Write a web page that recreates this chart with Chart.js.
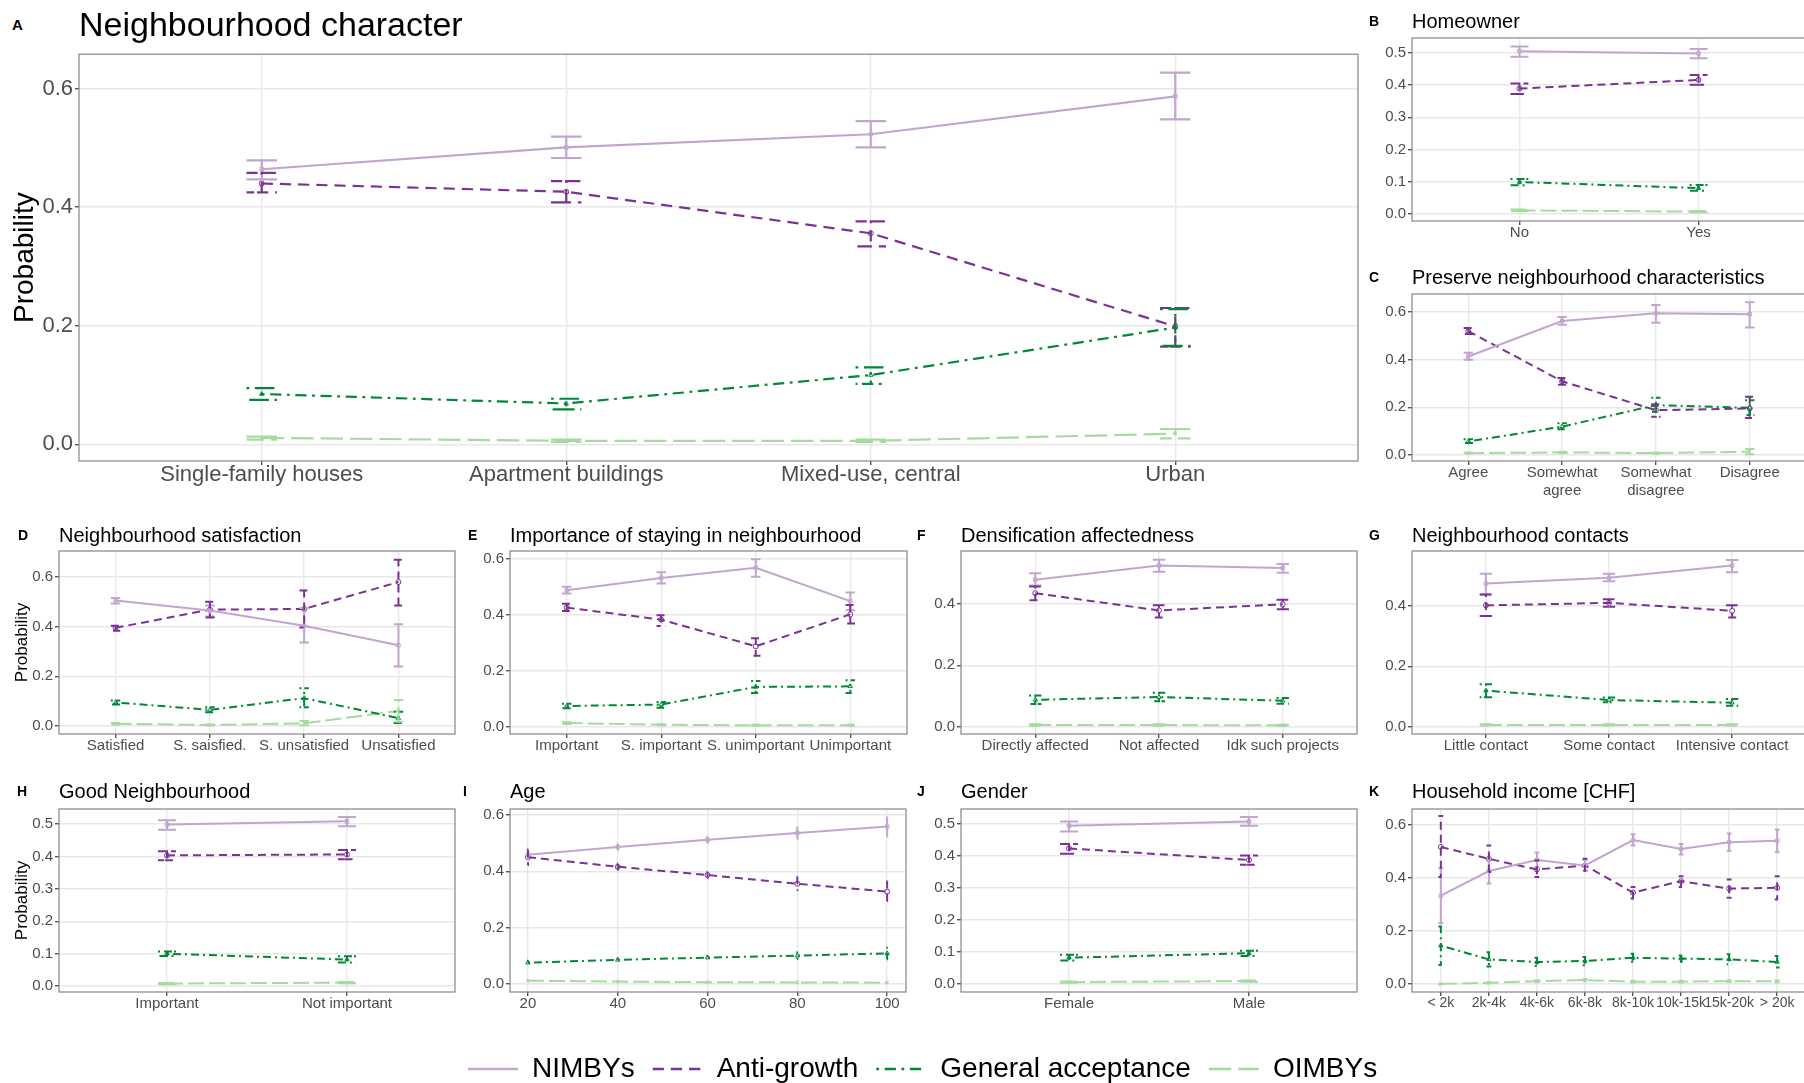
<!DOCTYPE html>
<html>
<head>
<meta charset="utf-8">
<script src="https://cdn.jsdelivr.net/npm/chart.js@4.4.1/dist/chart.umd.min.js"></script>
<style>
  html, body { margin: 0; padding: 0; background: #fff; overflow: hidden; width: 1804px; height: 1083px; }
  body { position: relative; font-family: "Liberation Sans", Arial, sans-serif; }
  canvas { position: absolute; }
  .tag { position: absolute; font-weight: bold; font-size: 14px; line-height: 1; transform: translateY(-50%); color: #000; }
  .ttl { position: absolute; font-size: 20px; line-height: 1; transform: translateY(-50%); white-space: nowrap; color: #000; }
</style>
</head>
<body>
<script>
// series
const seriesNames = ["NIMBYs", "Anti-growth", "General acceptance", "OIMBYs"];

// tick values
const ticksTenth = [0, 0.1, 0.2, 0.3, 0.4, 0.5];
const ticksSix = [0, 0.2, 0.4, 0.6];
const ticksFour = [0, 0.2, 0.4];
const ageTicks = [20, 40, 60, 80, 100];

// A Neighbourhood character
const charCats = ["Single-family houses", "Apartment buildings", "Mixed-use, central", "Urban"];
const charEst = [[0.464, 0.501, 0.523, 0.587], [0.440, 0.426, 0.356, 0.199], [0.085, 0.069, 0.117, 0.197], [0.011, 0.006, 0.006, 0.018]];
const charLo = [[0.447, 0.483, 0.501, 0.548], [0.425, 0.408, 0.334, 0.165], [0.075, 0.059, 0.102, 0.166], [0.008, 0.004, 0.004, 0.010]];
const charHi = [[0.479, 0.519, 0.545, 0.627], [0.458, 0.444, 0.376, 0.230], [0.095, 0.077, 0.130, 0.228], [0.013, 0.008, 0.008, 0.026]];

// B Homeowner
const homeCats = ["No", "Yes"];
const homeEst = [[0.505, 0.498], [0.389, 0.416], [0.099, 0.080], [0.011, 0.007]];
const homeLo = [[0.488, 0.483], [0.372, 0.401], [0.089, 0.072], [0.008, 0.005]];
const homeHi = [[0.520, 0.512], [0.405, 0.431], [0.108, 0.090], [0.014, 0.009]];

// C Preserve neighbourhood characteristics
const presCats = ["Agree", ["Somewhat", "agree"], ["Somewhat", "disagree"], "Disagree"];
const presEst = [[0.413, 0.562, 0.594, 0.590], [0.519, 0.309, 0.188, 0.195], [0.057, 0.119, 0.209, 0.198], [0.008, 0.011, 0.008, 0.014]];
const presLo = [[0.399, 0.546, 0.555, 0.535], [0.507, 0.295, 0.161, 0.155], [0.050, 0.108, 0.181, 0.168], [0.006, 0.009, 0.006, 0.003]];
const presHi = [[0.429, 0.579, 0.629, 0.640], [0.532, 0.323, 0.213, 0.244], [0.066, 0.133, 0.240, 0.230], [0.010, 0.013, 0.010, 0.025]];

// D Neighbourhood satisfaction
const satCats = ["Satisfied", "S. saisfied.", "S. unsatisfied", "Unsatisfied"];
const satEst = [[0.505, 0.465, 0.403, 0.325], [0.395, 0.468, 0.471, 0.579], [0.095, 0.065, 0.112, 0.032], [0.009, 0.004, 0.011, 0.061]];
const satLo = [[0.493, 0.441, 0.336, 0.239], [0.383, 0.437, 0.396, 0.485], [0.087, 0.055, 0.076, 0.012], [0.006, 0.002, 0.003, 0.017]];
const satHi = [[0.515, 0.485, 0.475, 0.409], [0.403, 0.500, 0.545, 0.669], [0.103, 0.076, 0.152, 0.057], [0.012, 0.006, 0.020, 0.105]];

// E Importance of staying in neighbourhood
const stayCats = ["Important", "S. important", "S. unimportant", "Unimportant"];
const stayEst = [[0.488, 0.532, 0.568, 0.449], [0.426, 0.383, 0.288, 0.402], [0.075, 0.080, 0.143, 0.145], [0.014, 0.008, 0.006, 0.006]];
const stayLo = [[0.476, 0.512, 0.536, 0.417], [0.414, 0.360, 0.254, 0.369], [0.067, 0.069, 0.121, 0.121], [0.011, 0.006, 0.004, 0.004]];
const stayHi = [[0.500, 0.552, 0.599, 0.480], [0.440, 0.399, 0.317, 0.435], [0.083, 0.089, 0.164, 0.167], [0.017, 0.010, 0.008, 0.008]];

// F Densification affectedness
const densCats = ["Directly affected", "Not affected", "Idk such projects"];
const densEst = [[0.478, 0.524, 0.516], [0.434, 0.378, 0.398], [0.088, 0.097, 0.085], [0.006, 0.006, 0.005]];
const densLo = [[0.459, 0.504, 0.500], [0.411, 0.355, 0.382], [0.074, 0.083, 0.075], [0.004, 0.004, 0.003]];
const densHi = [[0.499, 0.543, 0.529], [0.456, 0.395, 0.413], [0.102, 0.111, 0.094], [0.009, 0.009, 0.007]];

// G Neighbourhood contacts
const contCats = ["Little contact", "Some contact", "Intensive contact"];
const contEst = [[0.473, 0.492, 0.532], [0.401, 0.409, 0.383], [0.120, 0.089, 0.080], [0.007, 0.007, 0.007]];
const contLo = [[0.437, 0.480, 0.510], [0.366, 0.396, 0.361], [0.098, 0.082, 0.070], [0.005, 0.005, 0.005]];
const contHi = [[0.505, 0.505, 0.550], [0.437, 0.421, 0.401], [0.141, 0.097, 0.092], [0.009, 0.009, 0.009]];

// H Good Neighbourhood
const goodCats = ["Important", "Not important"];
const goodEst = [[0.498, 0.508], [0.403, 0.406], [0.100, 0.082], [0.008, 0.011]];
const goodLo = [[0.482, 0.493], [0.388, 0.391], [0.093, 0.073], [0.006, 0.009]];
const goodHi = [[0.511, 0.521], [0.416, 0.420], [0.107, 0.092], [0.010, 0.013]];

// I Age
const ages = [20, 40, 60, 80, 100];
const ageEst = [[0.459, 0.486, 0.512, 0.536, 0.559], [0.450, 0.416, 0.387, 0.356, 0.328], [0.076, 0.086, 0.094, 0.101, 0.109], [0.012, 0.009, 0.007, 0.006, 0.005]];
const ageLo = [[0.438, 0.476, 0.500, 0.515, 0.524], [0.422, 0.405, 0.375, 0.333, 0.295], [0.069, 0.080, 0.087, 0.089, 0.088], [0.009, 0.007, 0.006, 0.004, 0.003]];
const ageHi = [[0.481, 0.497, 0.523, 0.556, 0.592], [0.476, 0.427, 0.398, 0.380, 0.365], [0.083, 0.092, 0.101, 0.113, 0.130], [0.015, 0.011, 0.009, 0.008, 0.008]];

// J Gender
const genCats = ["Female", "Male"];
const genEst = [[0.494, 0.507], [0.423, 0.387], [0.082, 0.096], [0.006, 0.009]];
const genLo = [[0.476, 0.494], [0.406, 0.372], [0.073, 0.087], [0.004, 0.007]];
const genHi = [[0.507, 0.521], [0.437, 0.401], [0.091, 0.104], [0.008, 0.011]];

// K Household income
const incCats = ["< 2k", "2k-4k", "4k-6k", "6k-8k", "8k-10k", "10k-15k", "15k-20k", "> 20k"];
const incEst = [[0.333, 0.426, 0.468, 0.447, 0.543, 0.509, 0.535, 0.540], [0.517, 0.472, 0.432, 0.447, 0.345, 0.388, 0.360, 0.363], [0.145, 0.093, 0.083, 0.087, 0.099, 0.096, 0.093, 0.083], [0.000, 0.005, 0.011, 0.015, 0.009, 0.009, 0.011, 0.010]];
const incLo = [[0.230, 0.379, 0.441, 0.429, 0.522, 0.488, 0.503, 0.497], [0.404, 0.422, 0.404, 0.426, 0.323, 0.366, 0.325, 0.319], [0.072, 0.066, 0.068, 0.071, 0.084, 0.083, 0.075, 0.062], [0.000, 0.002, 0.008, 0.011, 0.006, 0.006, 0.008, 0.007]];
const incHi = [[0.437, 0.476, 0.496, 0.468, 0.565, 0.528, 0.568, 0.583], [0.634, 0.522, 0.466, 0.472, 0.366, 0.406, 0.394, 0.406], [0.217, 0.120, 0.099, 0.102, 0.114, 0.108, 0.112, 0.106], [0.001, 0.008, 0.014, 0.019, 0.012, 0.012, 0.014, 0.013]];

// styles
const FONT = "'Liberation Sans', Arial, sans-serif";
Chart.defaults.font.family = FONT;
const seriesColors = ["#c2a5cf", "#7b3294", "#008837", "#a6dba0"];
const seriesDash = [[], [8, 5], [2, 4, 8, 4], [16, 5]];
const seriesPoints = ["rect", "circle", "triangle", "crossRot"];

// error bars drawn like ggplot's geom_errorbar (one polyline, same linetype)
const errorBars = {
  id: "errorBars",
  afterDatasetsDraw(chart, args, opts) {
    const { ctx, scales: { x, y } } = chart;
    const cap = opts.cap || 0.05;
    chart.data.datasets.forEach((ds) => {
      if (!ds.lo) return;
      ctx.save();
      ctx.strokeStyle = ds.borderColor;
      ctx.lineWidth = ds.borderWidth;
      ctx.setLineDash(ds.borderDash || []);
      ds.data.forEach((p, j) => {
        const cx = x.getPixelForValue(p.x);
        const xl = x.getPixelForValue(p.x - cap);
        const xr = x.getPixelForValue(p.x + cap);
        const yh = y.getPixelForValue(ds.hi[j]);
        const yl = y.getPixelForValue(ds.lo[j]);
        ctx.beginPath();
        ctx.moveTo(xl, yh); ctx.lineTo(xr, yh); ctx.lineTo(cx, yh);
        ctx.lineTo(cx, yl); ctx.lineTo(xl, yl); ctx.lineTo(xr, yl);
        ctx.stroke();
      });
      ctx.restore();
    });
  }
};

const frame = {
  id: "frame",
  afterDraw(chart) {
    const { ctx, chartArea: a } = chart;
    ctx.save();
    ctx.strokeStyle = "#858585";
    ctx.lineWidth = 1.2;
    ctx.strokeRect(a.left, a.top, a.right - a.left, a.bottom - a.top);
    ctx.restore();
  }
};

const addText = (cls, text, left, cy, size) => {
  const d = document.createElement("div");
  d.className = cls;
  d.textContent = text;
  d.style.left = left + "px";
  d.style.top = cy + "px";
  if (size) d.style.fontSize = size + "px";
  document.body.appendChild(d);
};

const makePanel = (p) => {
  const yW = p.yW || 45, padT = 10, padR = 10, xH = p.xH || 30;
  const bw = p.box[2] - p.box[0], bh = p.box[3] - p.box[1];
  const cv = document.createElement("canvas");
  cv.width = yW + bw + padR;
  cv.height = padT + bh + xH;
  cv.style.width = cv.width + "px";
  cv.style.height = cv.height + "px";
  cv.style.left = (p.box[0] - yW) + "px";
  cv.style.top = (p.box[1] - padT) + "px";
  document.body.appendChild(cv);

  addText("tag", p.tag, p.tagX, p.titleY, p.tagSize);
  addText("ttl", p.title, p.box[0], p.titleY, p.titleSize);

  const xs = p.xs || p.cats.map((c, i) => i + 1);
  const xMin = p.xMin !== undefined ? p.xMin : 0.4;
  const xMax = p.xMax !== undefined ? p.xMax : xs.length + 0.6;
  const tickSize = p.tickSize || 15;
  const dashScale = p.dashScale || 1;
  const lw = p.lineWidth || 2;

  const datasets = seriesNames.map((name, k) => ({
    label: name,
    data: xs.map((x, j) => ({ x: x, y: p.est[k][j] })),
    lo: p.lo[k],
    hi: p.hi[k],
    borderColor: seriesColors[k],
    backgroundColor: "rgba(0,0,0,0)",
    borderDash: seriesDash[k].map((d) => d * dashScale),
    borderWidth: lw,
    pointStyle: seriesPoints[k],
    pointRadius: 2.5,
    pointBorderWidth: 1,
    pointBorderColor: seriesColors[k],
    pointBackgroundColor: "rgba(0,0,0,0)",
    tension: 0,
    fill: false,
    order: k
  }));

  new Chart(cv, {
    type: "line",
    data: { datasets: datasets },
    options: {
      responsive: false,
      animation: false,
      layout: { padding: { top: padT, right: padR, left: 0, bottom: 0 } },
      plugins: { legend: { display: false }, tooltip: { enabled: false }, errorBars: { cap: 0.05 } },
      scales: {
        x: {
          type: "linear",
          min: xMin,
          max: xMax,
          bounds: "data",
          afterBuildTicks: (s) => { s.ticks = (p.xTicks || xs).map((v) => ({ value: v })); },
          afterFit: (s) => { s.height = xH; },
          ticks: {
            autoSkip: false, maxRotation: 0, minRotation: 0, padding: p.xPad !== undefined ? p.xPad : -1,
            color: "#4d4d4d", font: { size: p.xTickSize || tickSize },
            callback: (v) => (p.cats ? p.cats[Math.round(v) - 1] : String(v))
          },
          grid: { color: "#e8e8e8", lineWidth: 1.4, tickColor: "#555", tickLength: 4 },
          border: { display: false }
        },
        y: {
          type: "linear",
          min: p.yMin,
          max: p.yMax,
          bounds: "data",
          afterBuildTicks: (s) => { s.ticks = p.yTicks.map((v) => ({ value: v })); },
          afterFit: (s) => { s.width = yW; },
          ticks: { padding: 2, color: "#4d4d4d", font: { size: tickSize }, callback: (v) => v.toFixed(1) },
          grid: { color: "#e8e8e8", lineWidth: 1.4, tickColor: "#555", tickLength: 4 },
          border: { display: false },
          title: p.yTitle
            ? { display: true, text: "Probability", color: "#000", font: { size: p.yTitleSize }, padding: { top: p.yTitlePad, bottom: 0 } }
            : { display: false }
        }
      }
    },
    plugins: [errorBars, frame]
  });
};

const panels = [
  { tag: "A", tagX: 12, tagSize: 15, title: "Neighbourhood character", titleSize: 34, titleY: 24, box: [79, 49, 1358, 461],
    cats: charCats, est: charEst, lo: charLo, hi: charHi, yMin: -0.028, yMax: 0.658, yTicks: ticksSix,
    yW: 79, xH: 42, tickSize: 22, xPad: -3, yTitle: true, yTitleSize: 28, yTitlePad: 8, dashScale: 1.4, lineWidth: 2.2 },
  { tag: "B", tagX: 1369, title: "Homeowner", titleY: 21, box: [1412, 37, 1806, 221],
    cats: homeCats, est: homeEst, lo: homeLo, hi: homeHi, yMin: -0.022, yMax: 0.546, yTicks: ticksTenth },
  { tag: "C", tagX: 1369, title: "Preserve neighbourhood characteristics", titleY: 277, box: [1412, 293, 1806, 461],
    cats: presCats, est: presEst, lo: presLo, hi: presHi, yMin: -0.025, yMax: 0.675, yTicks: ticksSix, xH: 48 },
  { tag: "D", tagX: 18, title: "Neighbourhood satisfaction", titleY: 535, box: [59, 550, 455, 734],
    cats: satCats, est: satEst, lo: satLo, hi: satHi, yMin: -0.032, yMax: 0.704, yTicks: ticksSix,
    yW: 59, yTitle: true, yTitleSize: 17, yTitlePad: 12 },
  { tag: "E", tagX: 468, title: "Importance of staying in neighbourhood", titleY: 535, box: [510, 550, 907, 734],
    cats: stayCats, est: stayEst, lo: stayLo, hi: stayHi, yMin: -0.025, yMax: 0.628, yTicks: ticksSix },
  { tag: "F", tagX: 917, title: "Densification affectedness", titleY: 535, box: [961, 550, 1357, 734],
    cats: densCats, est: densEst, lo: densLo, hi: densHi, yMin: -0.023, yMax: 0.571, yTicks: ticksFour },
  { tag: "G", tagX: 1369, title: "Neighbourhood contacts", titleY: 535, box: [1412, 550, 1806, 734],
    cats: contCats, est: contEst, lo: contLo, hi: contHi, yMin: -0.023, yMax: 0.58, yTicks: ticksFour },
  { tag: "H", tagX: 17, title: "Good Neighbourhood", titleY: 791, box: [59, 808, 455, 992],
    cats: goodCats, est: goodEst, lo: goodLo, hi: goodHi, yMin: -0.018, yMax: 0.546, yTicks: ticksTenth,
    yW: 59, yTitle: true, yTitleSize: 17, yTitlePad: 12 },
  { tag: "I", tagX: 463, title: "Age", titleY: 791, box: [510, 808, 906, 992],
    xs: ages, xTicks: ageTicks, xMin: 16, xMax: 104.2, est: ageEst, lo: ageLo, hi: ageHi,
    yMin: -0.028, yMax: 0.621, yTicks: ticksSix },
  { tag: "J", tagX: 917, title: "Gender", titleY: 791, box: [961, 808, 1357, 992],
    cats: genCats, est: genEst, lo: genLo, hi: genHi, yMin: -0.025, yMax: 0.546, yTicks: ticksTenth },
  { tag: "K", tagX: 1369, title: "Household income [CHF]", titleY: 791, box: [1412, 808, 1806, 992],
    cats: incCats, est: incEst, lo: incLo, hi: incHi, yMin: -0.03, yMax: 0.66, yTicks: ticksSix, xTickSize: 14 }
];

panels.forEach(makePanel);

// shared legend at the bottom
const lg = document.createElement("canvas");
lg.width = 1100; lg.height = 160;
lg.style.width = "1100px"; lg.style.height = "160px";
lg.style.left = "450px"; lg.style.top = "1037px";
document.body.appendChild(lg);
new Chart(lg, {
  type: "line",
  data: {
    datasets: seriesNames.map((name, k) => ({
      label: name, data: [], borderColor: seriesColors[k], borderDash: seriesDash[k].map((d) => d * 1.4), borderWidth: 2.5
    }))
  },
  options: {
    responsive: false,
    animation: false,
    scales: { x: { display: false }, y: { display: false } },
    plugins: {
      tooltip: { enabled: false },
      legend: {
        display: true, position: "top", align: "start",
        labels: {
          usePointStyle: true, pointStyleWidth: 50, padding: 18, color: "#000", font: { size: 28 },
          generateLabels: (chart) => chart.data.datasets.map((ds, i) => ({
            text: ds.label, datasetIndex: i, pointStyle: "line", strokeStyle: ds.borderColor,
            fillStyle: ds.borderColor, lineWidth: 2.5, lineDash: ds.borderDash, fontColor: "#000", hidden: false
          }))
        }
      }
    }
  }
});
</script>
</body>
</html>
